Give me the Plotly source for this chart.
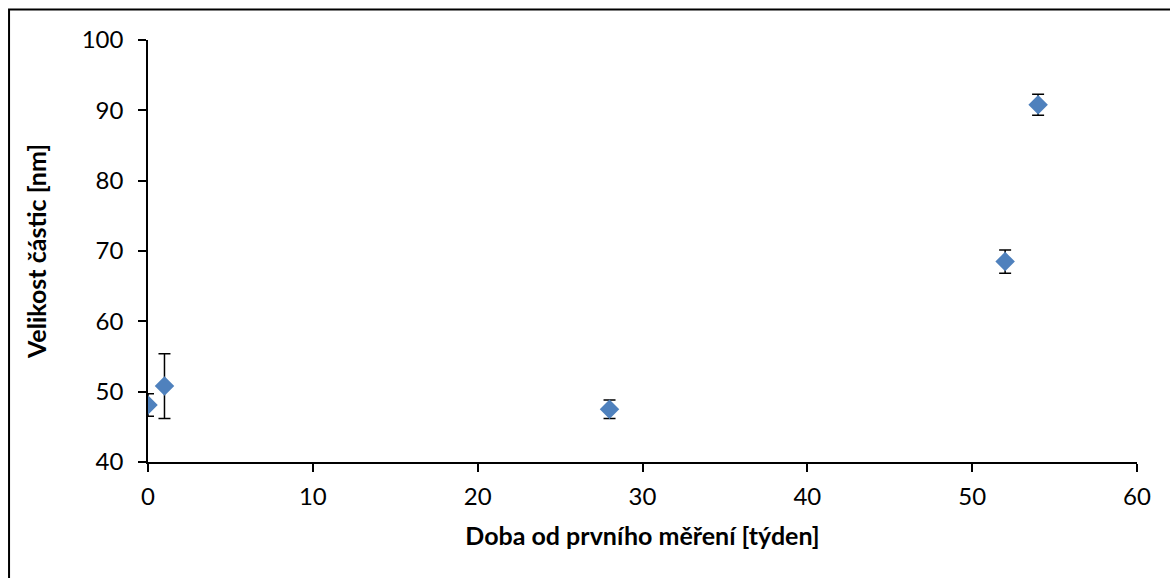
import plotly.graph_objects as go

weeks = [0, 1, 28, 52, 54]
size_nm = [48.1, 50.8, 47.5, 68.5, 90.8]
err_nm = [1.6, 4.6, 1.3, 1.65, 1.5]

x_ticks = [0, 10, 20, 30, 40, 50, 60]
y_ticks = [40, 50, 60, 70, 80, 90, 100]

FONT = "Lato, 'Open Sans', sans-serif"

fig = go.Figure()
fig.add_trace(go.Scatter(
    x=weeks, y=size_nm, mode="markers",
    marker=dict(symbol="diamond", size=15, color="#4F81BD", line=dict(width=0)),
    error_y=dict(type="data", array=err_nm, visible=True, color="black",
                 thickness=1.5, width=6),
    showlegend=False,
))

fig.update_layout(
    width=1170, height=578,
    margin=dict(l=148, r=33, t=40, b=116),
    paper_bgcolor="white", plot_bgcolor="white",
    font=dict(family=FONT, size=24, color="black"),
    xaxis=dict(range=[0, 60], tickvals=x_ticks, showgrid=False, zeroline=False,
               showline=True, linecolor="black", linewidth=1.5,
               ticks="outside", ticklen=8, tickwidth=1.5, tickcolor="black",
               ticklabelstandoff=4,
               title=dict(text="<b>Doba od prvního měření [týden]</b>",
                          font=dict(size=25), standoff=19)),
    yaxis=dict(range=[40, 100], tickvals=y_ticks, showgrid=False, zeroline=False,
               showline=True, linecolor="black", linewidth=1.5,
               ticks="outside", ticklen=8, tickwidth=1.5, tickcolor="black",
               ticklabelstandoff=10,
               title=dict(text="<b>Velikost částic [nm]</b>",
                          font=dict(size=25), standoff=28)),
    shapes=[dict(type="rect", xref="paper", yref="paper",
                 x0=-0.1405, x1=1.05, y0=-0.35, y1=1.0723,
                 line=dict(color="black", width=2), layer="below")],
)

fig.write_html("out.html")
